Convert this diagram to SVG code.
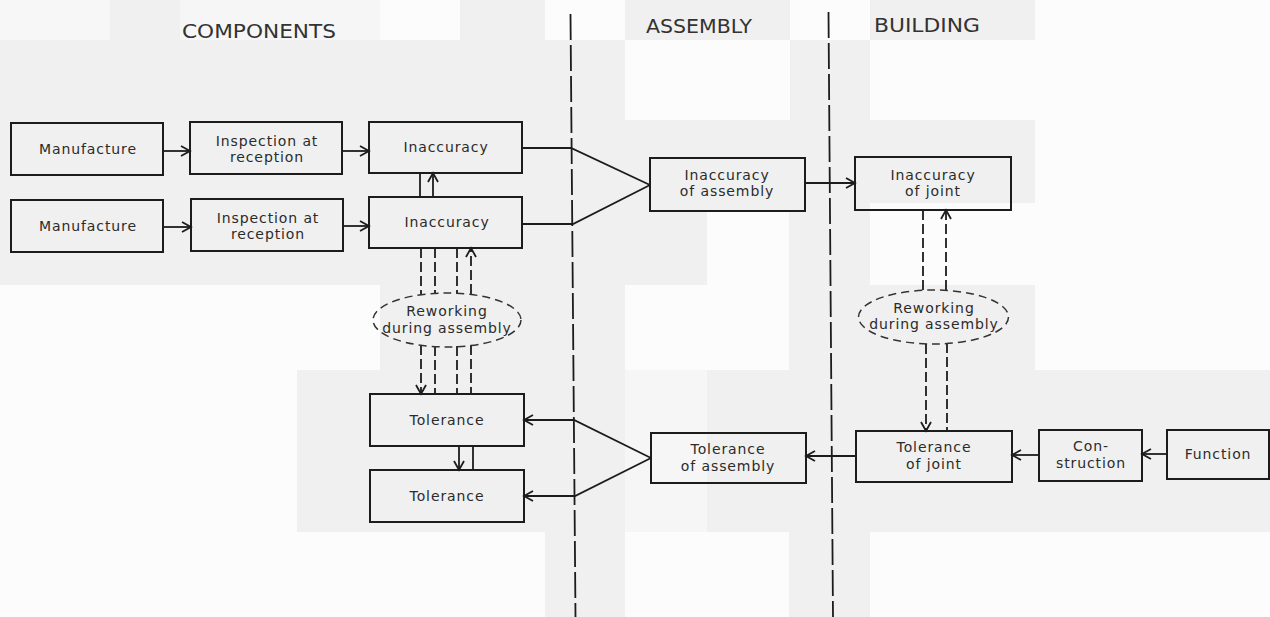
<svg xmlns="http://www.w3.org/2000/svg" width="1270" height="617" viewBox="0 0 1270 617">
  <style>
    .box { fill: none; stroke: #1c1c1c; stroke-width: 2; }
    .oval { fill: none; stroke: #333; stroke-width: 1.5; stroke-dasharray: 8 5; }
    .lbl { font-family: "DejaVu Sans", "Liberation Sans", sans-serif; font-size: 14px; letter-spacing: 0.9px; fill: #2b2b2b; text-anchor: middle; }
    .head { font-family: "DejaVu Sans", "Liberation Sans", sans-serif; font-size: 19px; fill: #333; }
    .ln { fill: none; stroke: #1c1c1c; stroke-width: 1.8; }
    .dash { fill: none; stroke: #1c1c1c; stroke-width: 1.8; stroke-dasharray: 10 4; }
    .sep { fill: none; stroke: #1c1c1c; stroke-width: 1.8; stroke-dasharray: 26 5; }
    .tone { fill: #f0f0f0; }
  </style>
  <defs>
    <marker id="arr" markerUnits="userSpaceOnUse" markerWidth="14" markerHeight="14" refX="11" refY="7" orient="auto">
      <path d="M2,2 L11,7 L2,12" fill="none" stroke="#1c1c1c" stroke-width="1.8"/>
    </marker>
  </defs>

  <!-- paper -->
  <rect x="0" y="0" width="1270" height="617" fill="#fcfcfc"/>
  <g id="paper-tone">
    <rect x="0" y="0" width="110" height="40" fill="#f7f7f7"/>
    <rect class="tone" x="110" y="0" width="70" height="40"/>
    <rect x="180" y="0" width="200" height="40" fill="#f6f6f6"/>
    <rect class="tone" x="460" y="0" width="85" height="40"/>
    <rect class="tone" x="625" y="0" width="165" height="40"/>
    <rect class="tone" x="870" y="0" width="165" height="40"/>
    <rect class="tone" x="0" y="40" width="545" height="245"/>
    <rect class="tone" x="545" y="40" width="80" height="80"/>
    <rect class="tone" x="790" y="40" width="80" height="80"/>
    <rect class="tone" x="545" y="120" width="325" height="165"/>
    <rect x="707" y="211" width="82" height="74" fill="#fcfcfc"/>
    <rect class="tone" x="870" y="120" width="165" height="83"/>
    <rect class="tone" x="380" y="285" width="245" height="85"/>
    <rect class="tone" x="789" y="285" width="246" height="85"/>
    <rect class="tone" x="297" y="370" width="973" height="162"/>
    <rect x="625" y="370" width="82" height="162" fill="#f6f6f6"/>
    <rect class="tone" x="545" y="532" width="80" height="85"/>
    <rect class="tone" x="789" y="532" width="81" height="85"/>
  </g>

  <!-- column headings -->
  <g id="headings">
    <text class="head" x="182" y="38" textLength="154" lengthAdjust="spacingAndGlyphs">COMPONENTS</text>
    <text class="head" x="646" y="33" textLength="106" lengthAdjust="spacingAndGlyphs">ASSEMBLY</text>
    <text class="head" x="874" y="32" textLength="106" lengthAdjust="spacingAndGlyphs">BUILDING</text>
  </g>

  <!-- column separators -->
  <g id="separators">
    <line class="sep" x1="570.5" y1="14" x2="575.5" y2="617"/>
    <line class="sep" x1="828.5" y1="12" x2="833" y2="617"/>
  </g>

  <!-- connectors -->
  <g id="connectors">
    <line class="ln" x1="163" y1="151" x2="190" y2="151" marker-end="url(#arr)"/>
    <line class="ln" x1="342" y1="151" x2="369" y2="151" marker-end="url(#arr)"/>
    <line class="ln" x1="163" y1="227" x2="191" y2="227" marker-end="url(#arr)"/>
    <line class="ln" x1="343" y1="226" x2="369" y2="226" marker-end="url(#arr)"/>
    <line class="ln" x1="420" y1="197" x2="420" y2="173"/>
    <line class="ln" x1="433" y1="197" x2="433" y2="173" marker-end="url(#arr)"/>
    <polyline class="ln" points="522,148 571,148 650,185"/>
    <polyline class="ln" points="522,224 573,224 650,185"/>
    <line class="ln" x1="805" y1="183" x2="855" y2="183" marker-end="url(#arr)"/>

    <!-- reworking loop, components -->
    <line class="dash" x1="421" y1="248" x2="421" y2="295"/>
    <line class="dash" x1="435" y1="248" x2="435" y2="294"/>
    <line class="dash" x1="457" y1="248" x2="457" y2="294"/>
    <line class="dash" x1="471" y1="294" x2="471" y2="248" marker-end="url(#arr)"/>
    <line class="dash" x1="421" y1="345" x2="421" y2="394" marker-end="url(#arr)"/>
    <line class="dash" x1="435" y1="346" x2="435" y2="394"/>
    <line class="dash" x1="457" y1="346" x2="457" y2="394"/>
    <line class="dash" x1="471" y1="345" x2="471" y2="394"/>

    <line class="ln" x1="459" y1="446" x2="459" y2="470" marker-end="url(#arr)"/>
    <line class="ln" x1="473" y1="446" x2="473" y2="470"/>
    <polyline class="ln" points="651,458 574,420 524,420" marker-end="url(#arr)"/>
    <polyline class="ln" points="651,458 575,496 524,496" marker-end="url(#arr)"/>

    <line class="ln" x1="856" y1="456" x2="806" y2="456" marker-end="url(#arr)"/>
    <line class="ln" x1="1039" y1="455" x2="1012" y2="455" marker-end="url(#arr)"/>
    <line class="ln" x1="1167" y1="454" x2="1142" y2="454" marker-end="url(#arr)"/>

    <!-- reworking loop, building -->
    <line class="dash" x1="923" y1="210" x2="923" y2="290"/>
    <line class="dash" x1="946" y1="290" x2="946" y2="210" marker-end="url(#arr)"/>
    <line class="dash" x1="926" y1="344" x2="926" y2="431" marker-end="url(#arr)"/>
    <line class="dash" x1="947" y1="343" x2="947" y2="431"/>
  </g>

  <!-- components column -->
  <g id="manufacture-1">
    <rect class="box" x="11" y="123" width="152" height="52"/>
    <text class="lbl" x="88" y="154">Manufacture</text>
  </g>
  <g id="inspection-1">
    <rect class="box" x="190" y="122" width="152" height="52"/>
    <text class="lbl" x="267" y="146">Inspection at</text>
    <text class="lbl" x="267" y="162">reception</text>
  </g>
  <g id="inaccuracy-1">
    <rect class="box" x="369" y="122" width="153" height="51"/>
    <text class="lbl" x="446" y="152">Inaccuracy</text>
  </g>
  <g id="manufacture-2">
    <rect class="box" x="11" y="200" width="152" height="52"/>
    <text class="lbl" x="88" y="231">Manufacture</text>
  </g>
  <g id="inspection-2">
    <rect class="box" x="191" y="199" width="152" height="52"/>
    <text class="lbl" x="268" y="223">Inspection at</text>
    <text class="lbl" x="268" y="239">reception</text>
  </g>
  <g id="inaccuracy-2">
    <rect class="box" x="369" y="197" width="153" height="51"/>
    <text class="lbl" x="447" y="227">Inaccuracy</text>
  </g>
  <g id="reworking-components">
    <ellipse class="oval" cx="447" cy="320" rx="74" ry="27"/>
    <text class="lbl" x="447" y="316">Reworking</text>
    <text class="lbl" x="447" y="333">during assembly</text>
  </g>
  <g id="tolerance-1">
    <rect class="box" x="370" y="394" width="154" height="52"/>
    <text class="lbl" x="447" y="425">Tolerance</text>
  </g>
  <g id="tolerance-2">
    <rect class="box" x="370" y="470" width="154" height="52"/>
    <text class="lbl" x="447" y="501">Tolerance</text>
  </g>

  <!-- assembly column -->
  <g id="inaccuracy-of-assembly">
    <rect class="box" x="650" y="158" width="155" height="53"/>
    <text class="lbl" x="727" y="180">Inaccuracy</text>
    <text class="lbl" x="727" y="196">of assembly</text>
  </g>
  <g id="tolerance-of-assembly">
    <rect class="box" x="651" y="433" width="155" height="50"/>
    <text class="lbl" x="728" y="454">Tolerance</text>
    <text class="lbl" x="728" y="471">of assembly</text>
  </g>

  <!-- building column -->
  <g id="inaccuracy-of-joint">
    <rect class="box" x="855" y="157" width="156" height="53"/>
    <text class="lbl" x="933" y="180">Inaccuracy</text>
    <text class="lbl" x="933" y="196">of joint</text>
  </g>
  <g id="reworking-building">
    <ellipse class="oval" cx="933.5" cy="317" rx="75" ry="27"/>
    <text class="lbl" x="934" y="313">Reworking</text>
    <text class="lbl" x="934" y="329">during assembly</text>
  </g>
  <g id="tolerance-of-joint">
    <rect class="box" x="856" y="431" width="156" height="51"/>
    <text class="lbl" x="934" y="452">Tolerance</text>
    <text class="lbl" x="934" y="469">of joint</text>
  </g>
  <g id="construction">
    <rect class="box" x="1039" y="430" width="103" height="51"/>
    <text class="lbl" x="1091" y="451">Con-</text>
    <text class="lbl" x="1091" y="468">struction</text>
  </g>
  <g id="function">
    <rect class="box" x="1167" y="430" width="102" height="49"/>
    <text class="lbl" x="1218" y="459">Function</text>
  </g>
</svg>
